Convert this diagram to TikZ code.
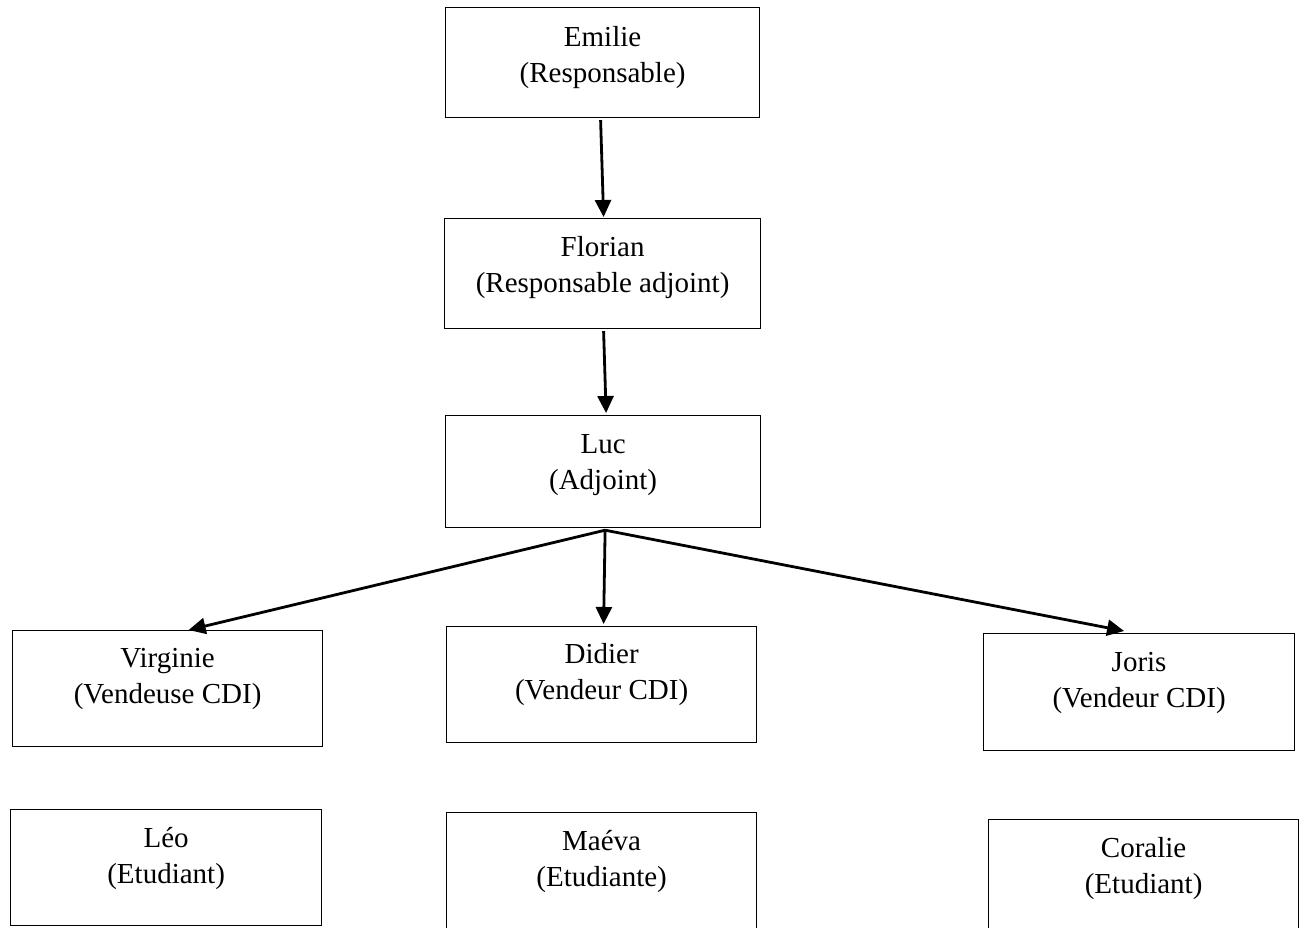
\documentclass[tikz,border=0pt]{standalone}
\usepackage{fontspec}
\setmainfont{Liberation Serif}
\usetikzlibrary{arrows.meta,calc}
\tikzset{
  box/.style={draw=black, line width=1.2pt, rectangle, inner sep=0pt, anchor=north west, minimum height=116pt},
  txt/.style={anchor=north, inner sep=0pt, align=center, font=\fontsize{29}{36}\selectfont},
  link/.style={line width=2.8pt, -{Triangle[length=17pt,width=16pt]}}
}
\begin{document}
\begin{tikzpicture}[x=1pt,y=-1pt]
\useasboundingbox (0,0) rectangle (1303,928);
\clip (0,0) rectangle (1303,928);
\node[box, minimum width=314pt, minimum height=110pt] (emilie) at (445,7) {};
\node[box, minimum width=316pt, minimum height=110pt] (florian) at (444,218) {};
\node[box, minimum width=315pt, minimum height=112pt] (luc) at (445,415) {};
\node[box, minimum width=310pt] (virginie) at (12,630) {};
\node[box, minimum width=310pt] (didier) at (446,626) {};
\node[box, minimum width=311pt, minimum height=117pt] (joris) at (983,633) {};
\node[box, minimum width=311pt] (leo) at (10,809) {};
\node[box, minimum width=310pt] (maeva) at (446,812) {};
\node[box, minimum width=310pt] (coralie) at (988,819) {};

\node[txt] (emilie-t) at ($(emilie.north)+(0,19)$) {Emilie\\(Responsable)};
\node[txt] (florian-t) at ($(florian.north)+(0,18)$) {Florian\\(Responsable adjoint)};
\node[txt] (luc-t) at ($(luc.north)+(0,19)$) {Luc\\(Adjoint)};
\node[txt] (virginie-t) at ($(virginie.north)+(0,18)$) {Virginie\\(Vendeuse CDI)};
\node[txt] (didier-t) at ($(didier.north)+(0,17)$) {Didier\\(Vendeur CDI)};
\node[txt] (joris-t) at ($(joris.north)+(0,19)$) {Joris\\(Vendeur CDI)};
\node[txt] (leo-t) at ($(leo.north)+(0,18)$) {Léo\\(Etudiant)};
\node[txt] (maeva-t) at ($(maeva.north)+(0,18)$) {Maéva\\(Etudiante)};
\node[txt] (coralie-t) at ($(coralie.north)+(0,18)$) {Coralie\\(Etudiant)};

\draw[link] ($(emilie.south)+(-2,2)$) -- ($(florian.north)+(1,-1)$);
\draw[link] ($(florian.south)+(1,2)$) -- ($(luc.north)+(3,-2)$);
\coordinate (fan) at ($(luc.south)+(2,2)$);
\draw[link] (fan) -- ($(virginie.north)+(21,0)$);
\draw[link] (fan) -- ($(didier.north)+(2,-2)$);
\draw[link] (fan) -- ($(joris.north)+(-15,-2)$);
\end{tikzpicture}
\end{document}
